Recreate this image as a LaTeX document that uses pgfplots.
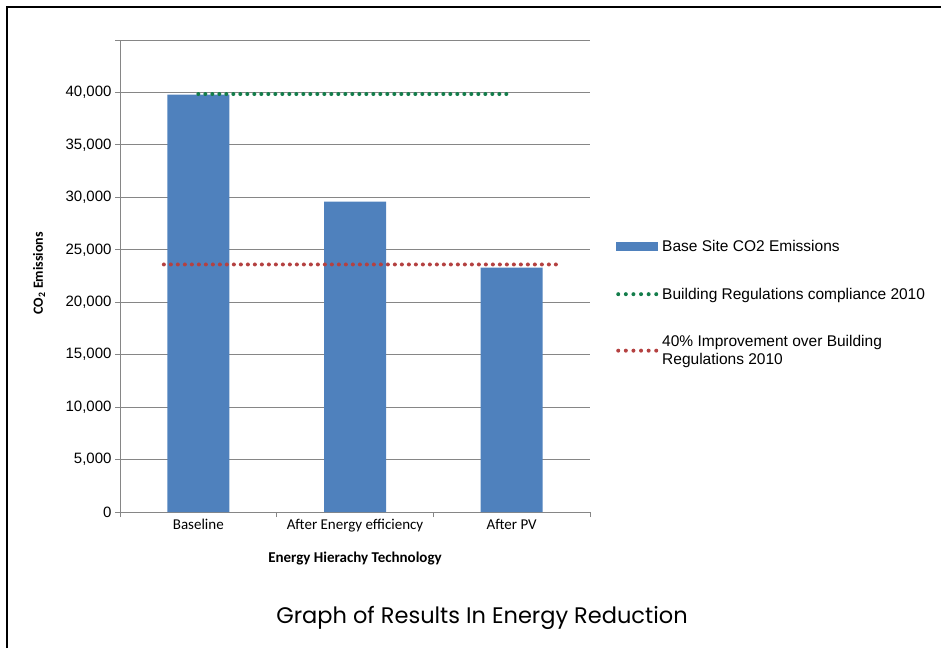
\documentclass[border=0pt]{standalone}
\usepackage{fontspec}
\setmainfont{Liberation Sans}
\newfontfamily\calibri{Carlito}
\newfontfamily\gothic{Poppins}
\usepackage{pgfplots}
\pgfplotsset{compat=1.18}
\definecolor{barblue}{RGB}{79,129,189}
\definecolor{dgreen}{RGB}{20,125,75}
\definecolor{dred}{RGB}{180,65,65}
\definecolor{gridgray}{RGB}{134,134,134}
\begin{document}
\begin{tikzpicture}[x=1pt,y=1pt]
\useasboundingbox (0,0) rectangle (941,648);
\draw[line width=2.2pt] (7,0) -- (7,641) -- (941,641);
\begin{axis}[
  at={(120pt,136pt)}, anchor=south west,
  scale only axis, width=470pt, height=472pt,
  xmin=-0.5, xmax=2.5, ymin=0, ymax=45000,
  axis lines=left, axis line style={-, gridgray, line width=0.8pt},
  ytick={0,5000,...,40000},
  extra y ticks={45000}, extra y tick labels={},
  scaled y ticks=false,
  ymajorgrids, grid style={gridgray, line width=0.8pt},
  tick align=outside, major tick length=5pt,
  tick style={gridgray, line width=0.8pt},
  xtick={-0.5,0.5,1.5,2.5}, xticklabels={},
  extra x ticks={0,1,2},
  extra x tick labels={Baseline, After Energy efficiency, After PV},
  extra x tick style={major tick length=0pt, grid=none,
     tick label style={font=\calibri\fontsize{15}{18}\selectfont, yshift=-4pt}},
  y tick label style={font=\fontsize{15}{18}\selectfont, /pgf/number format/1000 sep={,}},
  /pgf/number format/assume math mode=true,
  xlabel={\calibri\bfseries Energy Hierachy Technology},
  ylabel={\calibri\bfseries CO\textsubscript{2} Emissions},
  x label style={at={(axis description cs:0.5,-0.098)}, anchor=center, font=\fontsize{15}{18}\selectfont},
  y label style={at={(axis description cs:-0.172,0.506)}, anchor=center, font=\fontsize{14}{17}\selectfont},
  legend style={at={(axis description cs:1.049,0.585)}, anchor=north west, draw=none, fill=none,
     font=\fontsize{15.5}{17.5}\selectfont, row sep=31pt, cells={anchor=west, align=left}},
  legend cell align=left,
  clip=false,
]
\addplot[ybar, bar width=62pt, fill=barblue, draw=none,
  legend image code/.code={\fill[barblue] (0pt,-4.5pt) rectangle (42pt,4.5pt);}]
  coordinates {(0,39800) (1,29600) (2,23300)};
\addlegendentry{Base Site CO2 Emissions}
\addplot[dgreen, line width=4pt, dash pattern=on 0pt off 7pt, line cap=round,
  legend image code/.code={\draw[dgreen, line width=4pt, dash pattern=on 0pt off 7.6pt, line cap=round] (2pt,0pt) -- (42pt,0pt);}]
  coordinates {(0,39850) (2,39850)};
\addlegendentry{Building Regulations compliance 2010}
\addplot[dred, line width=4pt, dash pattern=on 0pt off 7pt, line cap=round,
  legend image code/.code={\draw[dred, line width=4pt, dash pattern=on 0pt off 7.6pt, line cap=round] (2pt,0pt) -- (42pt,0pt);}]
  coordinates {(-0.22,23600) (2.32,23600)};
\addlegendentry{40\% Improvement over Building\\Regulations 2010}
\end{axis}
\node[font=\gothic\fontsize{22.5}{25}\selectfont] at (482,30) {Graph of Results In Energy Reduction};
\end{tikzpicture}
\end{document}
